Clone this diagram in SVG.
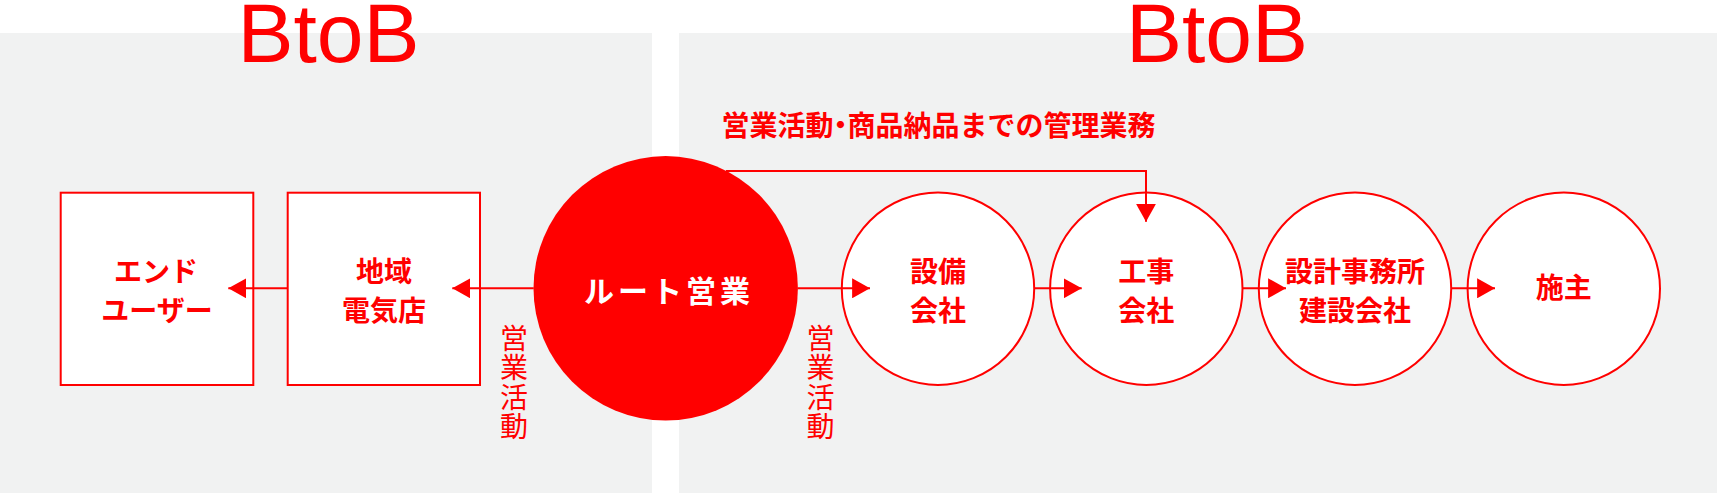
<svg xmlns="http://www.w3.org/2000/svg" width="1717" height="495" viewBox="0 0 1717 495">
<style>
.panel{fill:#F1F2F2}
.box{fill:#fff;stroke:#FF0000;stroke-width:2}
.lbl{font-family:"Noto Sans CJK JP","Noto Sans",sans-serif;font-weight:700;font-size:28px;fill:#FF0000;text-anchor:middle}
.vlbl{font-family:"Noto Sans CJK JP","Noto Sans",sans-serif;font-weight:400;font-size:28px;fill:#FF0000;writing-mode:vertical-rl;letter-spacing:1.3px}
.btob{font-family:"Liberation Sans",Arial,sans-serif;font-weight:400;font-size:84px;fill:#FF0000;text-anchor:middle}
.con{fill:none;stroke:#FF0000;stroke-width:2}
.half{font-feature-settings:"halt" 1}
</style>
<defs>
<marker id="ah" markerUnits="userSpaceOnUse" markerWidth="18" markerHeight="20" viewBox="0 0 17 19" refX="17" refY="9.5" orient="auto">
<path d="M0,0 L17,9.5 L0,19 Z" fill="#FF0000"/>
</marker>
</defs>
<g id="background">
<rect class="panel" x="0" y="33" width="652" height="460"/>
<rect class="panel" x="679" y="33" width="1038" height="460"/>
<text class="btob" x="328.5" y="61.5">BtoB</text>
<text class="btob" x="1217" y="61.5">BtoB</text>
</g>
<g id="node-enduser">
<rect class="box" x="60.7" y="192.7" width="192.6" height="192.3"/>
<text class="lbl" x="156" y="281.5">エンド</text>
<text class="lbl" x="157" y="320.5">ユーザー</text>
</g>
<g id="node-denkiten">
<rect class="box" x="287.7" y="192.7" width="192.3" height="192.3"/>
<text class="lbl" x="384" y="281.5">地域</text>
<text class="lbl" x="384" y="320.5">電気店</text>
</g>
<g id="node-route">
<circle cx="665.7" cy="288.3" r="132.2" fill="#FF0000"/>
<text class="lbl" x="669" y="302" style="fill:#fff;font-size:30px;letter-spacing:4px">ルート営業</text>
</g>
<g id="node-setsubi">
<circle class="box" cx="938" cy="288.7" r="96.2"/>
<text class="lbl" x="938" y="281.5">設備</text>
<text class="lbl" x="938" y="320.5">会社</text>
</g>
<g id="node-kouji">
<circle class="box" cx="1146.3" cy="288.7" r="96.2"/>
<text class="lbl" x="1146.3" y="281.5">工事</text>
<text class="lbl" x="1146.3" y="320.5">会社</text>
</g>
<g id="node-sekkei">
<circle class="box" cx="1355" cy="288.7" r="96.2"/>
<text class="lbl" x="1355" y="281.5">設計事務所</text>
<text class="lbl" x="1355" y="320.5">建設会社</text>
</g>
<g id="node-seshu">
<circle class="box" cx="1563.8" cy="288.7" r="96.2"/>
<text class="lbl" x="1563.8" y="298">施主</text>
</g>
<g id="connectors">
<line class="con" x1="287.7" y1="288.3" x2="228.3" y2="288.3" marker-end="url(#ah)"/>
<line class="con" x1="533.7" y1="288.3" x2="452.3" y2="288.3" marker-end="url(#ah)"/>
<line class="con" x1="797.7" y1="288.3" x2="870" y2="288.3" marker-end="url(#ah)"/>
<line class="con" x1="1034" y1="288.3" x2="1081.7" y2="288.3" marker-end="url(#ah)"/>
<line class="con" x1="1242.7" y1="288.3" x2="1286" y2="288.3" marker-end="url(#ah)"/>
<line class="con" x1="1451" y1="288.3" x2="1495" y2="288.3" marker-end="url(#ah)"/>
<path class="con" d="M726,171 H1146 V221.7" marker-end="url(#ah)"/>
<text class="lbl" x="721.5" y="135.5" style="text-anchor:start">営業活動<tspan class="half">・</tspan>商品納品までの管理業務</text>
<text class="vlbl" x="514" y="324.3">営業活動</text>
<text class="vlbl" x="820.5" y="324.3">営業活動</text>
</g>
</svg>
